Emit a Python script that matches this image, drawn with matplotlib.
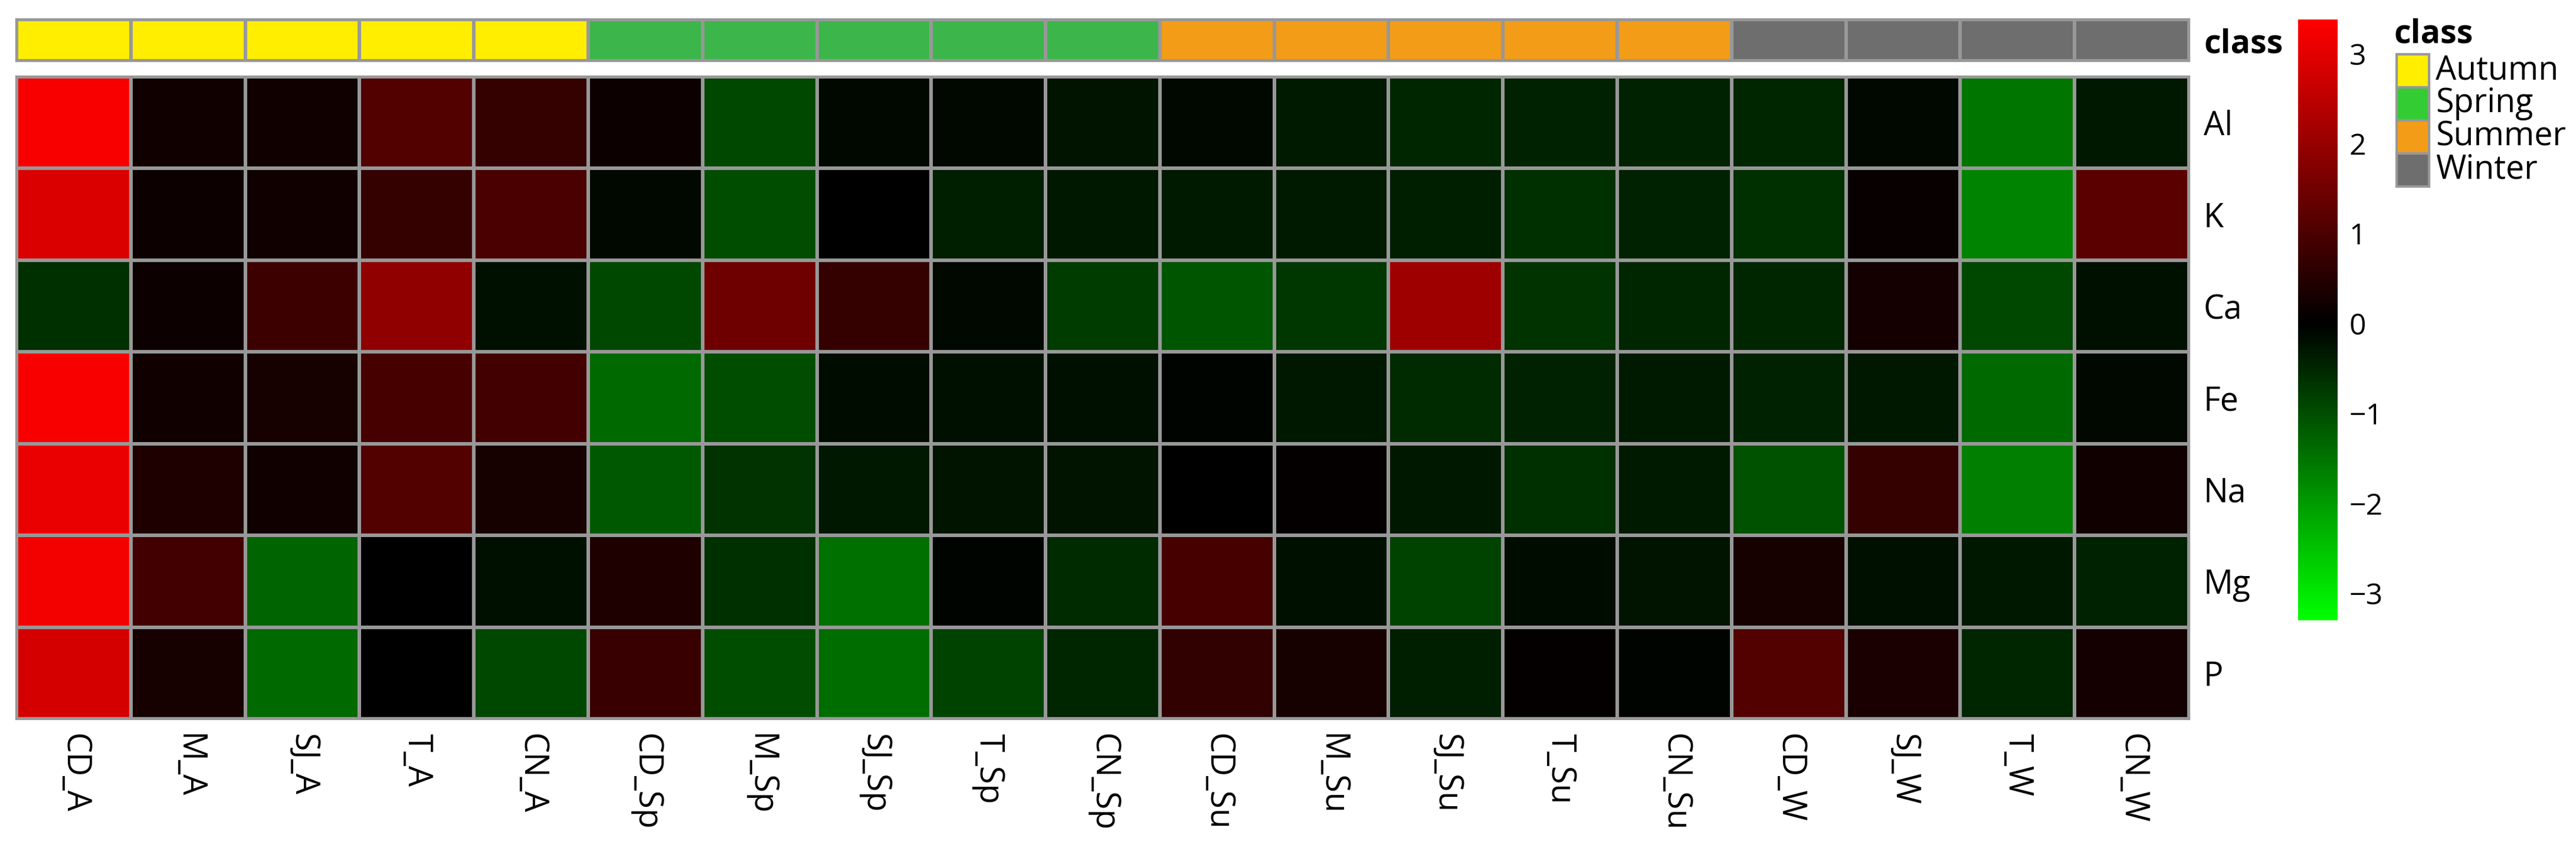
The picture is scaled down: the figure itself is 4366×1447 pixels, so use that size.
import matplotlib
matplotlib.use("Agg")
import matplotlib.pyplot as plt
import numpy as np
from matplotlib.colors import LinearSegmentedColormap, ListedColormap
from matplotlib.patches import Rectangle

plt.rcParams['font.family'] = ['Open Sans', 'DejaVu Sans']

samples = ["CD_A","M_A","SJ_A","T_A","CN_A","CD_Sp","M_Sp","SJ_Sp","T_Sp","CN_Sp",
           "CD_Su","M_Su","SJ_Su","T_Su","CN_Su","CD_W","SJ_W","T_W","CN_W"]
classes = ["Autumn"]*5 + ["Spring"]*5 + ["Summer"]*5 + ["Winter"]*4
class_names = ["Autumn","Spring","Summer","Winter"]
class_colors = ["#FFEE00","#3CB64A","#F39C18","#6E6E6E"]
legend_colors = ["#FFEE00","#33CC33","#F39C18","#6E6E6E"]
elements = ["Al","K","Ca","Fe","Na","Mg","P"]
values = [
 [3.3,0.2,0.2,1.1,0.7,0.15,-0.9,-0.1,-0.1,-0.25,-0.1,-0.35,-0.5,-0.45,-0.45,-0.5,-0.1,-1.5,-0.3],
 [2.9,0.15,0.2,0.7,1.0,-0.1,-1.0,0.0,-0.4,-0.3,-0.35,-0.35,-0.4,-0.6,-0.45,-0.6,0.1,-1.7,1.2],
 [-0.6,0.15,0.8,1.9,-0.2,-0.9,1.45,0.7,-0.1,-0.75,-1.1,-0.7,2.1,-0.65,-0.5,-0.5,0.25,-0.9,-0.2],
 [3.3,0.2,0.3,0.95,0.9,-1.35,-1.0,-0.15,-0.2,-0.2,-0.05,-0.3,-0.55,-0.45,-0.35,-0.45,-0.3,-1.35,-0.1],
 [3.1,0.4,0.2,1.1,0.3,-1.15,-0.65,-0.3,-0.25,-0.25,0.0,0.05,-0.3,-0.6,-0.35,-1.05,0.7,-1.65,0.2],
 [3.2,0.9,-1.3,0.0,-0.2,0.4,-0.6,-1.45,-0.05,-0.55,0.95,-0.2,-0.85,-0.15,-0.25,0.3,-0.2,-0.3,-0.45],
 [2.8,0.3,-1.35,0.0,-0.9,0.75,-1.0,-1.4,-0.85,-0.5,0.65,0.3,-0.4,0.05,-0.05,1.1,0.35,-0.5,0.25],
]
data = np.array(values)
vmin, vmax = -3.3, 3.38
cmap = LinearSegmentedColormap.from_list("gkr", [(0,(0,1,0)),(-vmin/(vmax-vmin),(0,0,0)),(1,(1,0,0))])
grid = "#989898"

W, H = 4366, 1447
fig = plt.figure(figsize=(W/100, H/100), dpi=100)

def fx(px): return px / W
def fy(py): return 1 - py / H

ax = fig.add_axes([fx(28), fy(1218), fx(3710-28), (1218-130)/H])
ax.pcolormesh(data, cmap=cmap, vmin=vmin, vmax=vmax, edgecolors=grid, linewidth=3)
ax.set_xlim(0, len(samples)); ax.set_ylim(len(elements), 0)
ax.set_xticks(np.arange(len(samples)) + 0.5)
ax.set_xticklabels(samples, rotation=-90, fontsize=40)
ax.set_yticks(np.arange(len(elements)) + 0.5)
ax.set_yticklabels(elements, fontsize=40)
ax.yaxis.tick_right()
ax.tick_params(length=0, pad=18)
for s in ax.spines.values():
    s.set_edgecolor(grid); s.set_linewidth(3)

axa = fig.add_axes([fx(28), fy(103), fx(3710-28), 70/H])
codes = np.array([[class_names.index(c) for c in classes]])
axa.pcolormesh(codes, cmap=ListedColormap(class_colors), vmin=-0.5, vmax=3.5, edgecolors=grid, linewidth=3)
axa.set_xlim(0, len(samples)); axa.set_xticks([])
axa.set_yticks([0.5]); axa.set_yticklabels(["class"], fontsize=40, fontweight="bold")
axa.yaxis.tick_right(); axa.tick_params(length=0, pad=18)
for s in axa.spines.values():
    s.set_edgecolor(grid); s.set_linewidth(3)

axc = fig.add_axes([fx(3895), fy(1051), fx(67), (1051-33)/H])
grad = np.linspace(vmin, vmax, 400).reshape(-1, 1)
axc.imshow(grad, aspect="auto", cmap=cmap, vmin=vmin, vmax=vmax, origin="lower",
           extent=[0, 1, vmin, vmax])
axc.set_xticks([])
axc.set_yticks([-3,-2,-1,0,1,2,3])
axc.set_yticklabels(["\u22123","\u22122","\u22121","0","1","2","3"], fontsize=36)
axc.yaxis.tick_right(); axc.tick_params(length=0, pad=14)
for s in axc.spines.values(): s.set_visible(False)

fig.text(fx(4058), fy(58), "class", fontsize=40, fontweight="bold", va="center", ha="left")
for i, (n, c) in enumerate(zip(class_names, legend_colors)):
    y0 = 92 + i*56
    fig.patches.append(Rectangle((fx(4062), fy(y0+56)), fx(55), 56/H, transform=fig.transFigure,
                                 facecolor=c, edgecolor=grid, linewidth=3))
    fig.text(fx(4128), fy(y0+28), n, fontsize=40, va="center", ha="left")

fig.savefig("out.png", dpi=100)
